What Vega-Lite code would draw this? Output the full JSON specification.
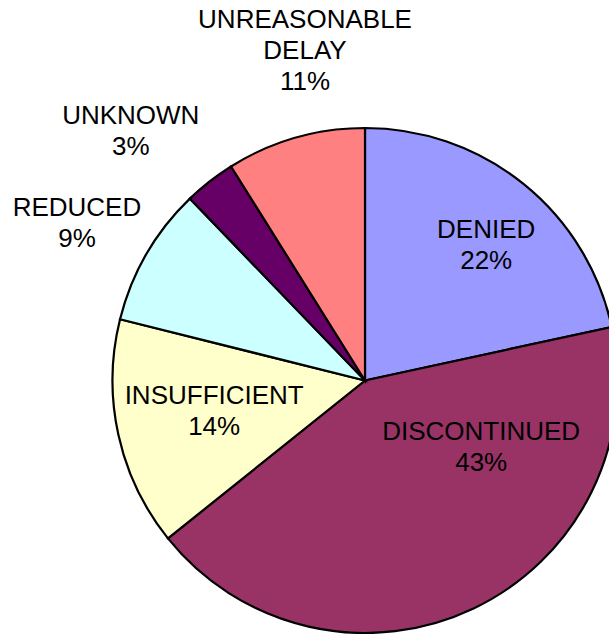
{
  "$schema": "https://vega.github.io/schema/vega-lite/v6.json",
  "width": 488,
  "height": 488,
  "autosize": {"type": "none"},
  "padding": {"left": 121, "top": 136.5, "right": 0, "bottom": 9.5},
  "background": "white",
  "config": {"view": {"stroke": null}},
  "data": {
    "values": [
      {"cat": "DENIED", "value": 21.6, "label": "DENIED\n22%"},
      {"cat": "DISCONTINUED", "value": 42.65, "label": "DISCONTINUED\n43%"},
      {"cat": "INSUFFICIENT", "value": 14.65, "label": "INSUFFICIENT\n14%"},
      {"cat": "REDUCED", "value": 8.9, "label": "REDUCED\n9%"},
      {"cat": "UNKNOWN", "value": 3.3, "label": "UNKNOWN\n3%"},
      {"cat": "UNREASONABLE DELAY", "value": 8.9, "label": "UNREASONABLE\nDELAY\n11%"}
    ]
  },
  "encoding": {
    "theta": {"field": "value", "type": "quantitative", "stack": true},
    "order": {"field": "cat", "type": "ordinal", "sort": "ascending"}
  },
  "layer": [
    {
      "mark": {"type": "arc", "radius": 252.5, "stroke": "black", "strokeWidth": 2.2, "strokeJoin": "miter"},
      "encoding": {
        "color": {
          "field": "cat",
          "type": "nominal",
          "legend": null,
          "scale": {
            "domain": ["DENIED", "DISCONTINUED", "INSUFFICIENT", "REDUCED", "UNKNOWN", "UNREASONABLE DELAY"],
            "range": ["#9999FF", "#993366", "#FFFFCC", "#CCFFFF", "#660066", "#FF8080"]
          }
        }
      }
    },
    {
      "mark": {"type": "text", "radius": 193.3, "thetaOffset": -0.0009, "font": "Liberation Sans", "fontSize": 26, "lineHeight": 31, "lineBreak": "\n", "align": "center", "baseline": "middle", "color": "black"},
      "encoding": {"text": {"condition": {"test": "datum.cat === 'DENIED'", "field": "label"}, "value": ""}}
    },
    {
      "mark": {"type": "text", "radius": 127.1, "thetaOffset": -0.7091, "font": "Liberation Sans", "fontSize": 26, "lineHeight": 31, "lineBreak": "\n", "align": "center", "baseline": "middle", "color": "black"},
      "encoding": {"text": {"condition": {"test": "datum.cat === 'DISCONTINUED'", "field": "label"}, "value": ""}}
    },
    {
      "mark": {"type": "text", "radius": 151.6, "thetaOffset": 0.1141, "font": "Liberation Sans", "fontSize": 26, "lineHeight": 31, "lineBreak": "\n", "align": "center", "baseline": "middle", "color": "black"},
      "encoding": {"text": {"condition": {"test": "datum.cat === 'INSUFFICIENT'", "field": "label"}, "value": ""}}
    },
    {
      "mark": {"type": "text", "radius": 336.0, "thetaOffset": 0.0162, "font": "Liberation Sans", "fontSize": 26, "lineHeight": 31, "lineBreak": "\n", "align": "center", "baseline": "middle", "color": "black"},
      "encoding": {"text": {"condition": {"test": "datum.cat === 'REDUCED'", "field": "label"}, "value": ""}}
    },
    {
      "mark": {"type": "text", "radius": 353.3, "thetaOffset": -0.062, "font": "Liberation Sans", "fontSize": 26, "lineHeight": 31, "lineBreak": "\n", "align": "center", "baseline": "middle", "color": "black"},
      "encoding": {"text": {"condition": {"test": "datum.cat === 'UNKNOWN'", "field": "label"}, "value": ""}}
    },
    {
      "mark": {"type": "text", "radius": 365.0, "thetaOffset": 0.1145, "font": "Liberation Sans", "fontSize": 26, "lineHeight": 31, "lineBreak": "\n", "align": "center", "baseline": "middle", "color": "black"},
      "encoding": {"text": {"condition": {"test": "datum.cat === 'UNREASONABLE DELAY'", "field": "label"}, "value": ""}}
    }
  ]
}
